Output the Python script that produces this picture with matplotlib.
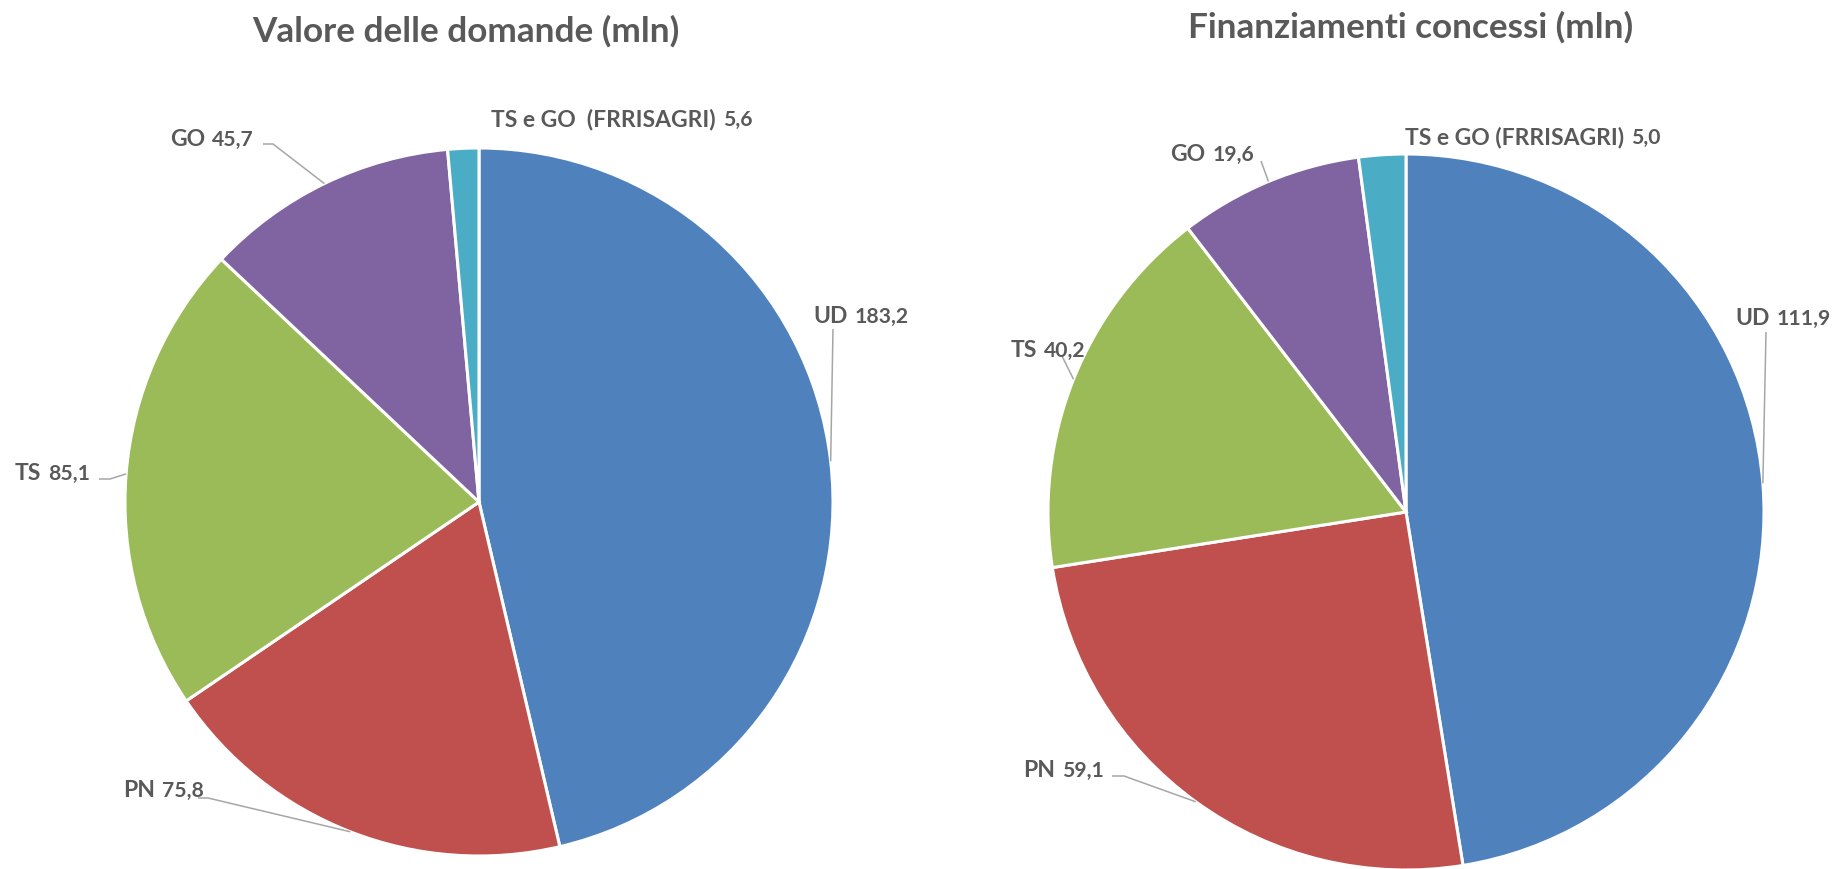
import matplotlib
matplotlib.use("Agg")
import matplotlib.pyplot as plt
import numpy as np

# ---------------- data ----------------
categories = ["UD", "PN", "TS", "GO", "TS e GO (FRRISAGRI)"]
domande_values = [183.2, 75.8, 85.1, 45.7, 5.6]
finanz_values = [111.9, 59.1, 40.2, 19.6, 5.0]
title_left = "Valore delle domande (mln)"
title_right = "Finanziamenti concessi (mln)"
left_label_names = ["UD", "PN", "TS", "GO", "TS e GO  (FRRISAGRI)"]
right_label_names = ["UD", "PN", "TS", "GO", "TS e GO (FRRISAGRI)"]

# ---------------- style ----------------
colors = ["#4F81BD", "#C0504D", "#9BBB59", "#8064A2", "#4BACC6"]
text_color = "#595959"
leader_color = "#A6A6A6"
FONT = ["Lato", "DejaVu Sans"]
plt.rcParams["font.family"] = FONT

W, H = 1838, 870
fig = plt.figure(figsize=(W / 100, H / 100), dpi=100)
fig.patch.set_facecolor("white")

# overlay axes in pixel coordinates (y downward)
ov = fig.add_axes([0, 0, 1, 1], zorder=5)
ov.set_xlim(0, W)
ov.set_ylim(H, 0)
ov.axis("off")
ov.patch.set_alpha(0)

renderer = fig.canvas.get_renderer()


def fit_size(txt, target_w, fs0=20):
    t = ov.text(0, 0, txt, fontsize=fs0, fontweight="bold")
    w = t.get_window_extent(renderer).width
    t.remove()
    return fs0 * target_w / w


FS_NAME = 16.5
FS_VAL = 15.2


def fmt(v):
    return f"{v:.1f}".replace(".", ",")


def make_pie(cx, cy, r, values):
    ax = fig.add_axes([(cx - r) / W, (H - cy - r) / H, 2 * r / W, 2 * r / H])
    wedges, _ = ax.pie(values, radius=1, startangle=90, counterclock=False,
                       colors=colors,
                       wedgeprops=dict(edgecolor="white", linewidth=2.2))
    ax.set_xlim(-1, 1)
    ax.set_ylim(-1, 1)
    ax.set_aspect("auto")
    ax.axis("off")
    return ax, wedges


def edge_point(ax, wedge):
    th = np.deg2rad((wedge.theta1 + wedge.theta2) / 2)
    disp = ax.transData.transform((np.cos(th), np.sin(th)))
    return ov.transData.inverted().transform(disp)


def label(x, y_base, name, value):
    t = ov.text(x, y_base, name, ha="left", va="baseline", fontsize=FS_NAME,
                fontweight="bold", color=text_color)
    bb = t.get_window_extent(renderer)
    x1 = ov.transData.inverted().transform((bb.x1, bb.y0))[0]
    ov.text(x1 + 7, y_base, fmt(value), ha="left", va="baseline", fontsize=FS_VAL,
            fontweight="bold", color=text_color)


def leader(pts, end):
    xs = [p[0] for p in pts] + [end[0]]
    ys = [p[1] for p in pts] + [end[1]]
    ov.plot(xs, ys, color=leader_color, lw=1.1, solid_capstyle="butt")


# ---------------- left pie ----------------
axL, wL = make_pie(479, 503, 354, domande_values)
ov.text(466, 42, title_left, ha="center", va="baseline",
        fontsize=fit_size(title_left, 427), fontweight="bold", color=text_color)
left_pos = [(813, 323), (123, 797), (15, 480), (170, 146), (491, 126)]
left_lead = [[(833, 330)], [(198, 799), (208, 799)], [(99, 480), (110, 480)],
             [(263, 145), (273, 145)], None]
for i in range(5):
    label(left_pos[i][0], left_pos[i][1], left_label_names[i], domande_values[i])
    if left_lead[i] is not None:
        leader(left_lead[i], edge_point(axL, wL[i]))

# ---------------- right pie ----------------
axR, wR = make_pie(1406, 513, 358, finanz_values)
ov.text(1411, 38, title_right, ha="center", va="baseline",
        fontsize=fit_size(title_right, 446), fontweight="bold", color=text_color)
right_pos = [(1735, 325), (1023, 777), (1011, 357), (1170, 161), (1405, 144)]
right_lead = [[(1766, 333)], [(1112, 777), (1124, 777)], [(1062, 357)],
              [(1261, 162)], None]
for i in range(5):
    label(right_pos[i][0], right_pos[i][1], right_label_names[i], finanz_values[i])
    if right_lead[i] is not None:
        leader(right_lead[i], edge_point(axR, wR[i]))

fig.savefig("out.png", dpi=100, facecolor="white")
